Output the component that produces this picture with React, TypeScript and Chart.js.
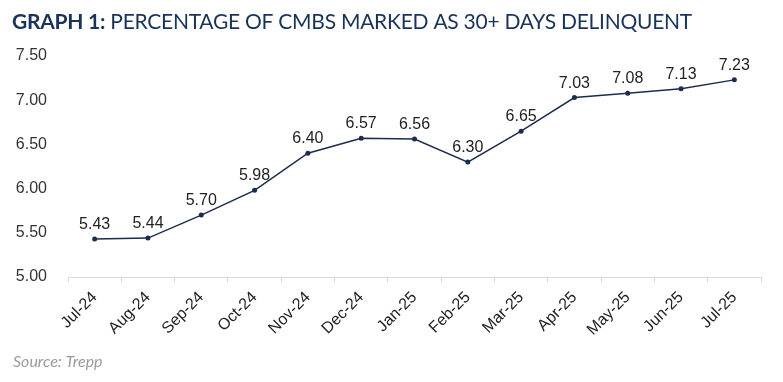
import React, { useEffect, useRef } from "react";
import { Chart, registerables } from "chart.js";

Chart.register(...registerables);

const categories = ["Jul-24", "Aug-24", "Sep-24", "Oct-24", "Nov-24", "Dec-24", "Jan-25", "Feb-25", "Mar-25", "Apr-25", "May-25", "Jun-25", "Jul-25"];
const delinquencyRate = [5.43, 5.44, 5.7, 5.98, 6.4, 6.57, 6.56, 6.3, 6.65, 7.03, 7.08, 7.13, 7.23];
const yTicks = [5.0, 5.5, 6.0, 6.5, 7.0, 7.5];
const titleBold = "GRAPH 1:";
const titleRest = " PERCENTAGE OF CMBS MARKED AS 30+ DAYS DELINQUENT";
const sourceText = "Source: Trepp";

const NAVY = "#1b2d4b";

const overlayPlugin = {
  id: "overlay",
  afterDatasetsDraw(chart: any) {
    const ctx = chart.ctx;
    const meta = chart.getDatasetMeta(0);
    ctx.save();
    ctx.font = "16px 'Liberation Sans', Arial, sans-serif";
    ctx.fillStyle = "#222";
    ctx.textAlign = "center";
    ctx.textBaseline = "alphabetic";
    meta.data.forEach((pt: any, i: number) => {
      ctx.fillText(delinquencyRate[i].toFixed(2), pt.x, pt.y - 10);
    });
    ctx.restore();
  },
  afterDraw(chart: any) {
    const ctx = chart.ctx;
    ctx.save();
    const boldFont = "bold 21px Lato, 'Open Sans', sans-serif";
    const regFont = "21px Lato, 'Open Sans', sans-serif";
    ctx.font = boldFont;
    const wb = ctx.measureText(titleBold).width;
    ctx.font = regFont;
    const wr = ctx.measureText(titleRest).width;
    const target = 680;
    const n = titleBold.length + titleRest.length;
    const ls = (target - wb - wr) / n;
    ctx.fillStyle = "#1a3358";
    ctx.textBaseline = "alphabetic";
    ctx.textAlign = "left";
    (ctx as any).letterSpacing = ls + "px";
    ctx.font = boldFont;
    ctx.fillText(titleBold, 12, 29);
    const wb2 = ctx.measureText(titleBold).width;
    ctx.font = regFont;
    ctx.fillText(titleRest, 12 + wb2, 29);
    (ctx as any).letterSpacing = "0px";
    ctx.font = "italic 16px Lato, 'Open Sans', sans-serif";
    ctx.fillStyle = "#9a9a9a";
    ctx.fillText(sourceText, 13, 367);
    ctx.restore();
  },
};

export default function App() {
  const ref = useRef<HTMLCanvasElement>(null);
  useEffect(() => {
    document.body.style.margin = "0";
    const chart = new Chart(ref.current!, {
      type: "line",
      data: {
        labels: categories,
        datasets: [
          {
            data: delinquencyRate,
            borderColor: NAVY,
            backgroundColor: NAVY,
            borderWidth: 1.5,
            pointRadius: 2.5,
            pointBackgroundColor: NAVY,
            pointBorderWidth: 0,
            tension: 0,
          },
        ],
      },
      options: {
        animation: false,
        responsive: false,
        maintainAspectRatio: false,
        layout: { padding: { top: 56, right: 22, left: 0, bottom: 0 } },
        plugins: { legend: { display: false }, tooltip: { enabled: false } },
        scales: {
          x: {
            offset: true,
            grid: {
              display: true,
              drawOnChartArea: false,
              drawTicks: true,
              tickLength: 5,
              color: "#d9d9d9",
              offset: true,
            },
            border: { display: true, color: "#d9d9d9" },
            ticks: {
              minRotation: 45,
              maxRotation: 45,
              color: "#222",
              font: { size: 16, family: "'Liberation Sans', Arial, sans-serif" },
              padding: 6,
            },
            afterFit: (s: any) => {
              s.height = 382 - 277;
            },
          },
          y: {
            min: 5,
            max: 7.5,
            afterBuildTicks: (s: any) => {
              s.ticks = yTicks.map((v) => ({ value: v }));
            },
            grid: { display: false, drawTicks: false },
            border: { display: false },
            ticks: {
              color: "#333",
              padding: 21,
              font: { size: 16, family: "'Liberation Sans', Arial, sans-serif" },
              callback: (v: any) => Number(v).toFixed(2),
            },
            afterFit: (s: any) => {
              s.width = 68;
            },
          },
        },
      },
      plugins: [overlayPlugin],
    });
    return () => chart.destroy();
  }, []);
  return <canvas ref={ref} width={783} height={382} style={{ display: "block" }} />;
}
